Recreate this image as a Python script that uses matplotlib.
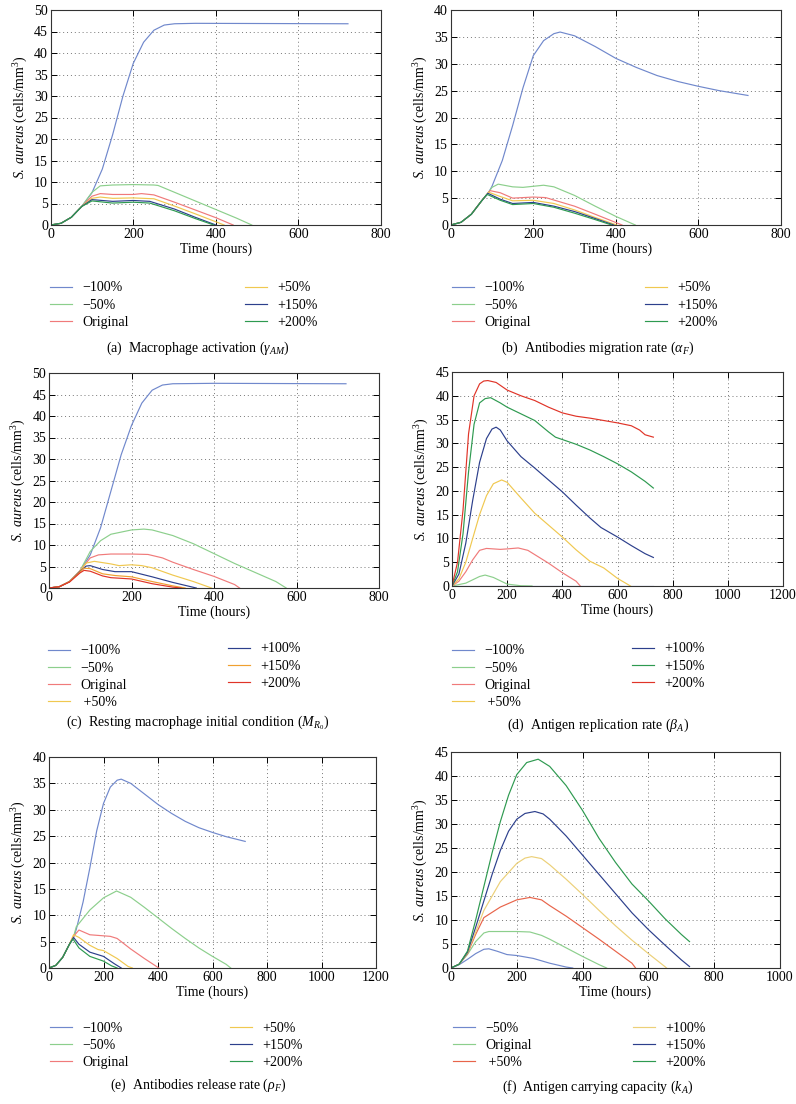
import matplotlib
matplotlib.use("Agg")
import matplotlib.pyplot as plt

plt.rcParams['font.family'] = ['Liberation Serif', 'DejaVu Serif']
plt.rcParams['mathtext.fontset'] = 'custom'
plt.rcParams['mathtext.rm'] = 'Liberation Serif'
plt.rcParams['mathtext.it'] = 'Liberation Serif:italic'
plt.rcParams['font.size'] = 10

# colours
C_LBLUE = '#7088cc'
C_LGREEN = '#8ccf8c'
C_LRED = '#f07a7a'
C_YELLOW = '#f0c850'
C_DBLUE = '#2c3f8c'
C_GREEN = '#2e9a50'
C_ORANGE = '#f0a030'
C_RED = '#e03428'

# ---- (a) macrophage activation
a_t_m100 = [0, 25, 50, 75, 100, 125, 150, 175, 200, 225, 250, 275, 300, 350, 720]
a_m100 = [0, 0.4, 1.8, 4.3, 7.5, 13, 21, 30, 37.6, 42.5, 45.3, 46.5, 46.8, 46.9, 46.8]
a_t_m50 = [0, 25, 50, 75, 100, 120, 150, 200, 250, 260, 300, 350, 400, 450, 487]
a_m50 = [0, 0.4, 1.8, 4.3, 7.6, 9.1, 9.3, 9.4, 9.3, 9.2, 7.6, 5.6, 3.6, 1.6, 0]
a_t_orig = [0, 25, 50, 75, 100, 120, 150, 200, 220, 250, 300, 350, 400, 442]
a_orig = [0, 0.4, 1.8, 4.3, 6.7, 7.3, 7.1, 7.1, 7.3, 7.0, 5.3, 3.5, 1.7, 0]
a_t_p50 = [0, 25, 50, 75, 100, 120, 150, 200, 250, 300, 350, 420]
a_p50 = [0, 0.4, 1.8, 4.3, 6.2, 6.5, 6.2, 6.3, 6.1, 4.4, 2.6, 0]
a_t_p150 = [0, 25, 50, 75, 100, 150, 200, 240, 300, 350, 400]
a_p150 = [0, 0.4, 1.8, 4.3, 5.9, 5.5, 5.7, 5.5, 3.7, 1.8, 0]
a_t_p200 = [0, 25, 50, 75, 100, 150, 200, 240, 300, 350, 395]
a_p200 = [0, 0.4, 1.8, 4.3, 5.6, 5.1, 5.3, 5.1, 3.3, 1.5, 0]

# ---- (b) antibodies migration rate
b_t_m100 = [0, 25, 50, 75, 90, 100, 125, 150, 175, 200, 225, 250, 265, 300, 350, 400, 450, 500, 550, 600, 650, 720]
b_m100 = [0, 0.5, 2, 4.5, 5.8, 7.2, 12, 18.5, 25.5, 31.5, 34.3, 35.6, 35.9, 35.2, 33.2, 31, 29.3, 27.8, 26.7, 25.8, 25, 24.1]
b_t_m50 = [0, 25, 50, 75, 90, 100, 115, 150, 175, 225, 250, 300, 350, 400, 447]
b_m50 = [0, 0.5, 2, 4.5, 5.9, 7.0, 7.6, 7.1, 7.0, 7.4, 7.1, 5.5, 3.5, 1.6, 0]
b_t_orig = [0, 25, 50, 75, 95, 120, 150, 200, 230, 300, 350, 415]
b_orig = [0, 0.5, 2, 4.5, 6.4, 6.0, 5.0, 5.2, 5.1, 3.5, 2.0, 0]
b_t_p50 = [0, 25, 50, 75, 92, 120, 150, 200, 250, 300, 350, 402]
b_p50 = [0, 0.5, 2, 4.5, 6.1, 5.3, 4.5, 4.6, 4.0, 2.8, 1.4, 0]
b_t_p150 = [0, 25, 50, 75, 90, 120, 150, 200, 250, 300, 350, 395]
b_p150 = [0, 0.5, 2, 4.5, 5.9, 4.8, 4.0, 4.2, 3.5, 2.5, 1.2, 0]
b_t_p200 = [0, 25, 50, 75, 88, 120, 150, 200, 250, 300, 350, 390]
b_p200 = [0, 0.5, 2, 4.5, 5.7, 4.6, 3.8, 4.0, 3.3, 2.2, 1.0, 0]

# ---- (c) resting macrophage initial condition
c_t_m100 = [0, 25, 50, 75, 100, 125, 150, 175, 200, 225, 250, 275, 300, 400, 720]
c_m100 = [0, 0.3, 1.5, 4, 7.7, 14, 22.5, 31, 37.8, 43, 46, 47.2, 47.5, 47.6, 47.5]
c_t_m50 = [0, 25, 50, 75, 100, 125, 150, 200, 230, 250, 300, 350, 400, 450, 500, 550, 575]
c_m50 = [0, 0.3, 1.5, 4, 8.5, 11, 12.5, 13.5, 13.7, 13.5, 12.2, 10.3, 8.0, 5.7, 3.6, 1.5, 0]
c_t_orig = [0, 25, 50, 75, 100, 120, 150, 200, 240, 275, 300, 350, 400, 450, 462]
c_orig = [0, 0.3, 1.5, 4, 7.0, 7.7, 7.9, 7.9, 7.8, 7.0, 6.0, 4.3, 2.7, 0.8, 0]
c_t_p50 = [0, 25, 50, 75, 90, 110, 150, 170, 200, 225, 250, 300, 350, 394]
c_p50 = [0, 0.3, 1.5, 3.9, 5.8, 6.2, 5.6, 5.2, 5.4, 5.2, 4.7, 3.0, 1.5, 0]
c_t_p100 = [0, 25, 50, 75, 90, 100, 130, 160, 200, 250, 300, 357]
c_p100 = [0, 0.3, 1.5, 3.8, 5.1, 5.2, 4.3, 3.8, 3.8, 2.6, 1.3, 0]
c_t_p150 = [0, 25, 50, 75, 85, 100, 130, 160, 200, 250, 300, 330]
c_p150 = [0, 0.3, 1.5, 3.7, 4.6, 4.5, 3.3, 2.9, 2.6, 1.5, 0.5, 0]
c_t_p200 = [0, 25, 50, 75, 85, 100, 130, 150, 200, 250, 300, 320]
c_p200 = [0, 0.3, 1.4, 3.5, 4.1, 3.9, 2.8, 2.4, 2.1, 1.0, 0.2, 0]

# ---- (d) antigen replication rate
d_t_m100 = [0, 730]
d_m100 = [0, 0]
d_t_m50 = [0, 50, 100, 120, 150, 200, 250, 290]
d_m50 = [0, 0.6, 2.0, 2.3, 1.8, 0.4, 0.05, 0]
d_t_orig = [0, 25, 50, 75, 100, 125, 175, 200, 240, 275, 300, 350, 400, 450, 465]
d_orig = [0, 1, 3, 5.5, 7.5, 7.9, 7.7, 7.8, 8.0, 7.5, 6.6, 4.8, 2.8, 1.0, 0]
d_t_p50 = [0, 25, 50, 75, 100, 125, 150, 180, 200, 250, 300, 350, 400, 450, 500, 550, 600, 647]
d_p50 = [0, 1.5, 5, 10, 15, 19, 21.5, 22.3, 21.8, 18.5, 15.3, 12.8, 10.3, 7.6, 5.2, 3.8, 1.6, 0]
d_t_p100 = [0, 25, 50, 75, 100, 125, 145, 160, 175, 200, 250, 300, 350, 400, 450, 500, 540, 600, 650, 700, 730]
d_p100 = [0, 2.5, 9, 18, 26, 31, 33, 33.4, 32.8, 30.5, 27.2, 24.8, 22.3, 19.8, 17, 14.3, 12.3, 10.3, 8.5, 6.8, 6]
d_t_p150 = [0, 20, 40, 60, 80, 100, 120, 140, 175, 200, 250, 300, 350, 375, 400, 450, 500, 550, 600, 650, 700, 730]
d_p150 = [0, 3, 11, 24, 34, 38.5, 39.4, 39.6, 38.5, 37.6, 36.2, 34.8, 32.4, 31.3, 30.8, 29.8, 28.6, 27.2, 25.7, 24, 22, 20.6]
d_t_p200 = [0, 20, 40, 60, 80, 100, 115, 130, 160, 200, 250, 300, 350, 400, 450, 500, 550, 600, 650, 680, 700, 730]
d_p200 = [0, 5, 16, 32, 40, 42.5, 43.1, 43.2, 42.8, 41.2, 40, 39, 37.6, 36.4, 35.7, 35.3, 34.8, 34.3, 33.7, 32.8, 31.8, 31.3]

# ---- (e) antibodies release rate
e_t_m100 = [0, 25, 50, 75, 90, 100, 125, 150, 175, 200, 225, 250, 265, 300, 350, 400, 450, 500, 550, 600, 650, 720]
e_m100 = [0, 0.5, 2, 4.5, 5.8, 7.3, 12.5, 19, 26, 31.2, 34.3, 35.6, 35.8, 35, 33, 31, 29.3, 27.8, 26.6, 25.7, 24.9, 24.0]
e_t_m50 = [0, 25, 50, 75, 90, 100, 150, 200, 248, 300, 350, 400, 450, 500, 550, 600, 650, 667]
e_m50 = [0, 0.5, 2, 4.5, 5.9, 7.8, 11, 13.3, 14.6, 13.4, 11.5, 9.5, 7.5, 5.6, 3.8, 2.2, 0.7, 0]
e_t_orig = [0, 25, 50, 75, 90, 110, 150, 200, 225, 250, 300, 350, 403]
e_orig = [0, 0.5, 2, 4.5, 6, 7.2, 6.3, 6.1, 6.0, 5.6, 3.6, 1.8, 0]
e_t_p50 = [0, 25, 50, 75, 90, 110, 150, 180, 200, 250, 290, 306]
e_p50 = [0, 0.5, 2, 4.5, 6.3, 5.8, 4.3, 3.5, 3.3, 1.8, 0.3, 0]
e_t_p150 = [0, 25, 50, 75, 90, 110, 150, 200, 240, 265]
e_p150 = [0, 0.5, 2, 4.5, 5.8, 4.5, 3.0, 2.2, 0.8, 0]
e_t_p200 = [0, 25, 50, 75, 88, 110, 150, 200, 230, 250]
e_p200 = [0, 0.5, 2, 4.5, 5.5, 3.8, 2.2, 1.3, 0.4, 0]

# ---- (f) antigen carrying capacity
f_t_m50 = [0, 25, 50, 75, 100, 115, 140, 170, 200, 250, 300, 350, 370]
f_m50 = [0, 0.7, 1.8, 3.0, 3.9, 4.0, 3.5, 2.8, 2.6, 2.0, 1.0, 0.2, 0]
f_t_orig = [0, 25, 50, 75, 100, 115, 150, 200, 240, 275, 300, 350, 400, 450, 473]
f_orig = [0, 0.8, 2.8, 5.5, 7.3, 7.6, 7.6, 7.6, 7.5, 6.8, 6.0, 4.2, 2.4, 0.7, 0]
f_t_p50 = [0, 25, 50, 75, 100, 150, 200, 240, 275, 300, 350, 400, 450, 500, 550, 561]
f_p50 = [0, 0.8, 3, 7, 10.5, 12.7, 14.2, 14.7, 14.2, 13, 10.8, 8.4, 6, 3.5, 1, 0]
f_t_p100 = [0, 25, 50, 75, 100, 150, 200, 225, 245, 275, 300, 350, 400, 450, 500, 550, 600, 650, 655]
f_p100 = [0, 0.8, 3.2, 7.5, 12, 18, 21.8, 22.9, 23.2, 22.8, 21.5, 18.5, 15.3, 12, 8.8, 5.8, 3, 0.3, 0]
f_t_p150 = [0, 25, 50, 75, 100, 125, 150, 175, 200, 225, 255, 280, 300, 350, 400, 450, 500, 550, 600, 650, 700, 725]
f_p150 = [0, 0.8, 3.3, 8.5, 14, 19.5, 24.5, 28.5, 31, 32.2, 32.6, 32.1, 31, 27.5, 23.5, 19.5, 15.5, 11.5, 8, 4.8, 1.7, 0.3]
f_t_p200 = [0, 25, 50, 75, 100, 125, 150, 175, 200, 230, 265, 300, 350, 400, 450, 500, 550, 600, 650, 700, 725]
f_p200 = [0, 0.8, 3.5, 10, 17, 24, 30.5, 36, 40.3, 42.8, 43.5, 42, 38, 32.8, 27, 22, 17.5, 14, 10.3, 7, 5.5]


W, H = 796, 1104
FS = 10
fig = plt.figure(figsize=(W / 100, H / 100), dpi=100)


def add_axes(left, top, right, bottom):
    return fig.add_axes([left / W, 1 - bottom / H, (right - left) / W, (bottom - top) / H])


def style(ax, xmax, ymax, ystep):
    ax.set_xlim(0, xmax)
    ax.set_ylim(0, ymax)
    ax.set_xticks(range(0, xmax + 1, 200))
    ax.set_yticks(range(0, ymax + 1, ystep))
    ax.grid(True, linestyle=(0, (1, 3)), color='#777777', linewidth=0.7)
    ax.tick_params(direction='in', top=True, right=True, length=4, width=0.7, pad=2, labelsize=FS)
    for s in ax.spines.values():
        s.set_linewidth(0.8)
        s.set_color('#333333')
    ax.set_xlabel('Time (hours)', fontsize=FS, labelpad=1)
    ax.set_ylabel(r'$\mathit{S.\ aureus}$ (cells/mm$^3$)', fontsize=FS, labelpad=3)


def legends(ax, handles, n_left, xl, xr, yl, yr):
    kw = dict(loc='upper left', bbox_transform=fig.transFigure, frameon=False,
              borderpad=0, borderaxespad=0, handlelength=1.6, handletextpad=0.72,
              labelspacing=0.3, fontsize=FS)
    l1 = ax.legend(handles=handles[:n_left], bbox_to_anchor=(xl / W, 1 - (yl - 5.5) / H), **kw)
    ax.add_artist(l1)
    ax.legend(handles=handles[n_left:], bbox_to_anchor=(xr / W, 1 - (yr - 5.5) / H), **kw)


def draw(ax, curves):
    hs = []
    for t, y, c, lab in curves:
        h, = ax.plot(t, y, color=c, lw=0.85, label=lab)
        hs.append(h)
    return hs


# (a)
ax = add_axes(50.7, 10, 381, 225)
hs = draw(ax, [(a_t_m100, a_m100, C_LBLUE, '−100%'), (a_t_m50, a_m50, C_LGREEN, '−50%'),
               (a_t_orig, a_orig, C_LRED, 'Original'), (a_t_p50, a_p50, C_YELLOW, '+50%'),
               (a_t_p150, a_p150, C_DBLUE, '+150%'), (a_t_p200, a_p200, C_GREEN, '+200%')])
style(ax, 800, 50, 5)
legends(ax, hs, 3, 50, 245, 287, 287)
fig.text(198 / W, 1 - 348 / H, r'(a)  Macrophage activation ($\gamma_{AM}$)', ha='center', va='center', fontsize=FS)

# (b)
ax = add_axes(450.7, 10, 781, 225)
hs = draw(ax, [(b_t_m100, b_m100, C_LBLUE, '−100%'), (b_t_m50, b_m50, C_LGREEN, '−50%'),
               (b_t_orig, b_orig, C_LRED, 'Original'), (b_t_p50, b_p50, C_YELLOW, '+50%'),
               (b_t_p150, b_p150, C_DBLUE, '+150%'), (b_t_p200, b_p200, C_GREEN, '+200%')])
style(ax, 800, 40, 5)
legends(ax, hs, 3, 452, 645, 287, 287)
fig.text(598 / W, 1 - 348 / H, r'(b)  Antibodies migration rate ($\alpha_F$)', ha='center', va='center', fontsize=FS)

# (c)
ax = add_axes(49, 373, 379, 588)
hs = draw(ax, [(c_t_m100, c_m100, C_LBLUE, '−100%'), (c_t_m50, c_m50, C_LGREEN, '−50%'),
               (c_t_orig, c_orig, C_LRED, 'Original'), (c_t_p50, c_p50, C_YELLOW, ' +50%'),
               (c_t_p100, c_p100, C_DBLUE, '+100%'), (c_t_p150, c_p150, C_ORANGE, '+150%'),
               (c_t_p200, c_p200, C_RED, '+200%')])
style(ax, 800, 50, 5)
legends(ax, hs, 4, 48, 228, 650, 648)
fig.text(198 / W, 1 - 723 / H, r'(c)  Resting macrophage initial condition ($M_{R_0}$)', ha='center', va='center', fontsize=FS)

# (d)
ax = add_axes(452, 372, 783, 586)
hs = draw(ax, [(d_t_m100, d_m100, C_LBLUE, '−100%'), (d_t_m50, d_m50, C_LGREEN, '−50%'),
               (d_t_orig, d_orig, C_LRED, 'Original'), (d_t_p50, d_p50, C_YELLOW, ' +50%'),
               (d_t_p100, d_p100, C_DBLUE, '+100%'), (d_t_p150, d_p150, C_GREEN, '+150%'),
               (d_t_p200, d_p200, C_RED, '+200%')])
style(ax, 1200, 45, 5)
legends(ax, hs, 4, 452, 632, 650, 648)
fig.text(598 / W, 1 - 725 / H, r'(d)  Antigen replication rate ($\beta_A$)', ha='center', va='center', fontsize=FS)

# (e)
ax = add_axes(49, 757, 376, 968)
hs = draw(ax, [(e_t_m100, e_m100, C_LBLUE, '−100%'), (e_t_m50, e_m50, C_LGREEN, '−50%'),
               (e_t_orig, e_orig, C_LRED, 'Original'), (e_t_p50, e_p50, C_YELLOW, '+50%'),
               (e_t_p150, e_p150, C_DBLUE, '+150%'), (e_t_p200, e_p200, C_GREEN, '+200%')])
style(ax, 1200, 40, 5)
legends(ax, hs, 3, 50, 230, 1027, 1027)
fig.text(198 / W, 1 - 1085 / H, r'(e)  Antibodies release rate ($\rho_F$)', ha='center', va='center', fontsize=FS)

# (f)
ax = add_axes(451, 752, 780, 968)
hs = draw(ax, [(f_t_m50, f_m50, C_LBLUE, '−50%'), (f_t_orig, f_orig, C_LGREEN, 'Original'),
               (f_t_p50, f_p50, '#e8644a', ' +50%'), (f_t_p100, f_p100, '#ecd078', '+100%'),
               (f_t_p150, f_p150, C_DBLUE, '+150%'), (f_t_p200, f_p200, C_GREEN, '+200%')])
style(ax, 1000, 45, 5)
legends(ax, hs, 3, 453, 633, 1027, 1027)
fig.text(598 / W, 1 - 1087 / H, r'(f)  Antigen carrying capacity ($k_A$)', ha='center', va='center', fontsize=FS)

fig.savefig('out.png', dpi=100)
